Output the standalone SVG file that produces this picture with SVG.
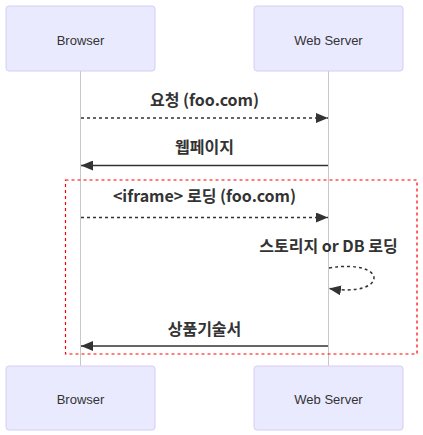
<svg xmlns="http://www.w3.org/2000/svg" width="423" height="435" viewBox="0 0 423 435">
<style>
.actor{fill:#eaeaff;stroke:#d6ccf5;stroke-width:1}
.atext{font-family:"Liberation Sans","Noto Sans CJK KR",sans-serif;font-size:13px;fill:#333;text-anchor:middle;dominant-baseline:central}
.life{stroke:#c8c8c8;stroke-width:1}
.msg{font-family:"Noto Sans CJK KR","Liberation Sans",sans-serif;font-size:16px;font-weight:bold;fill:#333;text-anchor:middle}
.solid{stroke:#333;stroke-width:1.5;fill:none}
.dash{stroke:#333;stroke-width:1.5;fill:none;stroke-dasharray:3,3}
</style>
<defs>
<marker id="arrow" viewBox="0 0 12 10" refX="12" refY="5" markerWidth="12" markerHeight="10" markerUnits="userSpaceOnUse" orient="auto">
<path d="M0,0 L12,5 L0,10 z" fill="#333"/>
</marker>
</defs>
<g id="lifelines">
<line class="life" x1="80.5" y1="71" x2="80.5" y2="366"/>
<line class="life" x1="328.5" y1="71" x2="328.5" y2="366"/>
</g>
<g id="browser-top"><rect class="actor" x="6" y="6" width="149" height="65" rx="3"/><text class="atext" x="80.5" y="40">Browser</text></g>
<g id="server-top"><rect class="actor" x="254" y="6" width="149" height="65" rx="3"/><text class="atext" x="328.5" y="40">Web Server</text></g>
<g id="browser-bottom"><rect class="actor" x="6" y="366" width="149" height="64" rx="3"/><text class="atext" x="80.5" y="399">Browser</text></g>
<g id="server-bottom"><rect class="actor" x="254" y="366" width="149" height="64" rx="3"/><text class="atext" x="328.5" y="399">Web Server</text></g>
<g id="frame"><rect x="65.5" y="180" width="351.5" height="174" fill="none" stroke="#f00" stroke-width="1.2" stroke-dasharray="3,3"/></g>
<g id="connectors">
<line class="dash" x1="81" y1="118" x2="328" y2="118" marker-end="url(#arrow)"/>
<text class="msg" x="204.5" y="106">요청 (foo.com)</text>
<line class="solid" x1="328" y1="165.5" x2="81" y2="165.5" marker-end="url(#arrow)"/>
<text class="msg" x="204.5" y="153">웹페이지</text>
<line class="dash" x1="81" y1="217.5" x2="328" y2="217.5" marker-end="url(#arrow)"/>
<text class="msg" x="204.5" y="202">&lt;iframe&gt; 로딩 (foo.com)</text>
<path class="dash" d="M329,268 C389,258 389,298 329,288.5" marker-end="url(#arrow)"/>
<text class="msg" x="328.5" y="252">스토리지 or DB 로딩</text>
<line class="solid" x1="328" y1="346" x2="81" y2="346" marker-end="url(#arrow)"/>
<text class="msg" x="204.5" y="335">상품기술서</text>
</g>
</svg>
